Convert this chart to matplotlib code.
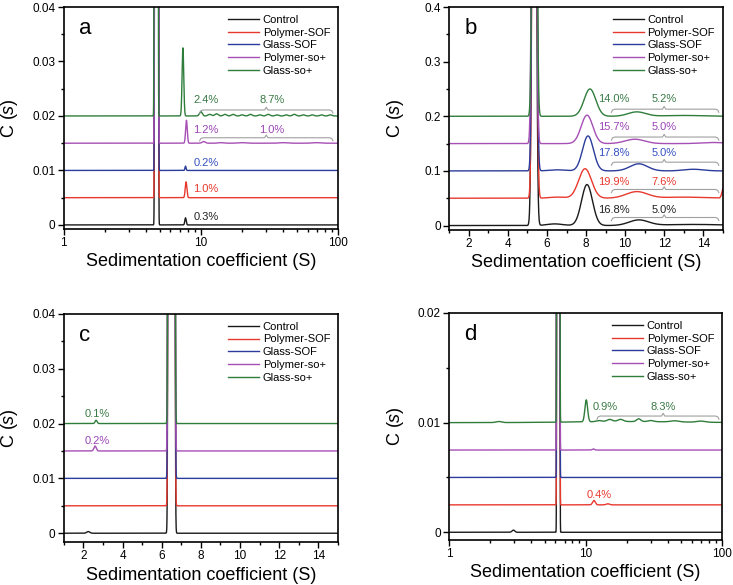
import numpy as np
import matplotlib.pyplot as plt
from matplotlib.ticker import MultipleLocator, FixedLocator, FuncFormatter, NullFormatter

plt.rcParams['font.family'] = ['Liberation Sans', 'DejaVu Sans']
plt.rcParams['mathtext.fontset'] = 'custom'
plt.rcParams['mathtext.it'] = 'Liberation Sans:italic'
plt.rcParams['mathtext.rm'] = 'Liberation Sans'

names = ['Control', 'Polymer-SOF', 'Glass-SOF', 'Polymer-so+', 'Glass-so+']
colors = ['#1a1a1a', '#e8392e', '#2c3c9c', '#a64fb5', '#2f7d3b']
text_colors = ['#222222', '#e8392e', '#3550c0', '#9a45b5', '#3a7a46']

# peaks: (S, height above baseline, width)
# log panels: width in decades; linear panels: width in S

# panel a (log axis)
a_offsets = [0, 0.005, 0.010, 0.015, 0.020]
a_peaks = [
    [(4.75, 100, 0.004), (7.73, 0.0013, 0.005)],
    [(4.75, 100, 0.004), (7.8, 0.0029, 0.006)],
    [(4.75, 100, 0.004), (7.73, 0.0008, 0.004)],
    [(4.75, 100, 0.004), (7.85, 0.0042, 0.006), (10.5, 0.0003, 0.012),
     (14, 0.0001, 0.02), (20, 0.0001, 0.03), (40, 0.0001, 0.03), (70, 0.0001, 0.03)],
    [(4.72, 100, 0.004), (7.4, 0.0125, 0.006), (10.0, 0.0008, 0.01),
     (11.6, 0.0003, 0.012), (13, 0.0004, 0.012), (15, 0.0003, 0.012),
     (17.2, 0.0003, 0.012), (20, 0.0002, 0.012), (23, 0.0003, 0.012),
     (27, 0.0002, 0.012), (31, 0.0003, 0.012), (36, 0.0002, 0.012),
     (42, 0.0002, 0.012), (48, 0.0003, 0.012), (56, 0.0002, 0.012),
     (65, 0.0002, 0.012), (76, 0.0002, 0.012), (88, 0.0002, 0.012)],
]
a_labels = ['0.3%', '1.0%', '0.2%', '1.2%', '2.4%']
a_label_x = [8.8, 8.8, 8.8, 8.8, 8.8]
a_label_y = [0.0015, 0.0066, 0.0114, 0.0174, 0.0229]
a_brackets = [(3, 9.8, 92, 30, 0.0160, '1.0%', 0.0174),
              (4, 9.8, 92, 30, 0.0211, '8.7%', 0.0229)]

# panel b (linear axis)
b_offsets = [0, 0.05, 0.10, 0.15, 0.20]
b_peaks = [
    [(5.34, 2, 0.08), (6.4, 0.003, 0.4), (8.05, 0.075, 0.28), (10.7, 0.010, 0.5), (13.5, 0.002, 1.5)],
    [(5.36, 2, 0.08), (6.5, 0.002, 0.4), (7.95, 0.054, 0.33), (10.6, 0.012, 0.55),
     (13.0, 0.002, 1.0), (15.05, 0.02, 0.08)],
    [(5.36, 2, 0.08), (6.5, 0.002, 0.4), (8.1, 0.064, 0.28), (10.7, 0.013, 0.45), (13.5, 0.003, 0.5)],
    [(5.34, 2, 0.08), (8.05, 0.052, 0.3), (10.5, 0.008, 0.5), (14.5, 0.002, 0.6)],
    [(5.36, 2, 0.08), (8.2, 0.05, 0.3), (10.6, 0.008, 0.45), (13.0, 0.0015, 1.0)],
]
b_labels = ['16.8%', '19.9%', '17.8%', '15.7%', '14.0%']
b_label_x = [8.6, 8.6, 8.6, 8.6, 8.6]
b_label_y = [0.029, 0.079, 0.132, 0.180, 0.231]
b_brackets = [(0, 9.3, 14.8, 12.0, 0.0147, '5.0%', 0.029),
              (1, 9.3, 14.8, 12.0, 0.066, '7.6%', 0.079),
              (2, 9.3, 14.8, 12.0, 0.116, '5.0%', 0.132),
              (3, 9.3, 14.8, 12.0, 0.162, '5.0%', 0.180),
              (4, 9.3, 14.8, 12.0, 0.213, '5.2%', 0.231)]

# panel c (linear axis)
c_offsets = [0, 0.005, 0.010, 0.015, 0.020]
c_peaks = [
    [(2.25, 0.0003, 0.08), (6.5, 100, 0.05)],
    [(6.5, 100, 0.05)],
    [(6.5, 100, 0.05)],
    [(2.6, 0.0009, 0.06), (6.5, 100, 0.05)],
    [(2.65, 0.0006, 0.05), (6.5, 100, 0.05)],
]
c_text = [(3, '0.2%', 2.69, 0.0169), (4, '0.1%', 2.69, 0.0218)]

# panel d (log axis)
d_offsets = [0, 0.0025, 0.005, 0.0075, 0.010]
d_peaks = [
    [(2.95, 0.0002, 0.01), (6.3, 100, 0.0032)],
    [(6.3, 100, 0.0032), (11.5, 0.0004, 0.01), (14.5, 0.0001, 0.012)],
    [(6.3, 100, 0.0032)],
    [(6.3, 100, 0.0032), (11.4, 0.0001, 0.008)],
    [(2.3, 0.0001, 0.02), (6.3, 100, 0.0032), (10.1, 0.002, 0.01),
     (12.5, 0.0001, 0.02), (15, 0.0002, 0.02), (18, 0.0002, 0.02),
     (24.5, 0.00025, 0.015), (30, 0.0001, 0.02), (45, 0.0001, 0.03),
     (70, 0.0001, 0.03), (20, 0.0001, 0.4)],
]
d_text = [(1, '0.4%', 12.6, 0.0034, 'center'), (4, '0.9%', 11.2, 0.0114, 'left')]
d_brackets = [(4, 12.1, 95, 37, 0.0106, '8.3%', 0.0114)]


def draw_curves(ax, x, offsets, peaks, log):
    u = np.log10(x) if log else x
    for i in range(5):
        y = np.full_like(x, offsets[i])
        for c, h, w in peaks[i]:
            c = np.log10(c) if log else c
            y = y + h * np.exp(-0.5 * ((u - c) / w) ** 2)
        ax.plot(x, y, color=colors[i], lw=1.0, label=names[i])


def bracket(ax, x0, x1, xm, y):
    # gray brace drawn in axes fraction
    to_ax = ax.transAxes.inverted()
    p0 = to_ax.transform(ax.transData.transform((x0, y)))
    p1 = to_ax.transform(ax.transData.transform((x1, y)))
    pm = to_ax.transform(ax.transData.transform((xm, y)))
    ya = p0[1]
    xs = [p0[0], p0[0] + 0.004, p0[0] + 0.012, pm[0] - 0.006, pm[0], pm[0] + 0.006,
          p1[0] - 0.012, p1[0] - 0.004, p1[0]]
    ys = [ya - 0.014, ya - 0.004, ya, ya, ya + 0.012, ya, ya, ya - 0.004, ya - 0.014]
    ax.plot(xs, ys, color='#a0a0a0', lw=0.8, transform=ax.transAxes)


def style(ax, letter, log, ymax, ymin, ymajor, yminor):
    for s in ax.spines.values():
        s.set_linewidth(1.2)
    ax.tick_params(direction='out', length=4, width=1.0, labelsize=8.5, pad=2)
    ax.tick_params(which='minor', direction='out', length=2.5, width=1.0)
    ax.set_ylim(ymin, ymax)
    ax.yaxis.set_major_locator(MultipleLocator(ymajor))
    ax.yaxis.set_minor_locator(MultipleLocator(yminor))
    ax.yaxis.set_major_formatter(FuncFormatter(lambda v, p: '0' if abs(v) < 1e-9 else '%g' % v))
    if log:
        ax.set_xscale('log')
        ax.set_xlim(1, 100)
        ax.xaxis.set_major_locator(FixedLocator([1, 10, 100]))
        ax.xaxis.set_major_formatter(FuncFormatter(lambda v, p: '%d' % v))
        ax.xaxis.set_minor_locator(FixedLocator([2, 3, 4, 5, 6, 7, 8, 9, 20, 30, 40, 50, 60, 70, 80, 90]))
        ax.xaxis.set_minor_formatter(NullFormatter())
    else:
        ax.set_xlim(1, 15)
        ax.xaxis.set_major_locator(MultipleLocator(2))
        ax.xaxis.set_minor_locator(MultipleLocator(1))
    ax.set_xlabel('Sedimentation coefficient (S)', fontsize=13, labelpad=3)
    ax.set_ylabel('C ($\\mathit{s}$)', fontsize=13)
    ax.yaxis.set_label_coords(-0.16, 0.5)
    ax.text(0.077, 0.905, letter, transform=ax.transAxes, fontsize=16, ha='center', va='center')
    ax.legend(loc='upper right', frameon=False, fontsize=8, handlelength=2.8,
              handletextpad=0.3, labelspacing=0.25, borderaxespad=0.3)


fig = plt.figure(figsize=(7.33, 5.85), dpi=100)
ax_a = fig.add_axes([0.087, 0.609, 0.374, 0.379])
ax_b = fig.add_axes([0.613, 0.607, 0.373, 0.381])
ax_c = fig.add_axes([0.087, 0.0735, 0.374, 0.39])
ax_d = fig.add_axes([0.613, 0.077, 0.372, 0.388])

x_log = np.logspace(0, 2, 20000)
x_lin = np.linspace(1, 15, 6000)

fs = 8

# a
draw_curves(ax_a, x_log, a_offsets, a_peaks, True)
style(ax_a, 'a', True, 0.04, -0.0007, 0.01, 0.005)
for i in range(5):
    ax_a.text(a_label_x[i], a_label_y[i], a_labels[i], color=text_colors[i], fontsize=fs, va='center')
for i, x0, x1, xm, y, t, ty in a_brackets:
    bracket(ax_a, x0, x1, xm, y)
    ax_a.text(xm * 1.1, ty, t, color=text_colors[i], fontsize=fs, ha='center', va='center')

# b
draw_curves(ax_b, x_lin, b_offsets, b_peaks, False)
style(ax_b, 'b', False, 0.4, -0.008, 0.1, 0.05)
for i in range(5):
    ax_b.text(b_label_x[i], b_label_y[i], b_labels[i], color=text_colors[i], fontsize=fs, va='center')
for i, x0, x1, xm, y, t, ty in b_brackets:
    bracket(ax_b, x0, x1, xm, y)
    ax_b.text(xm, ty, t, color=text_colors[i], fontsize=fs, ha='center', va='center')

# c
draw_curves(ax_c, x_lin, c_offsets, c_peaks, False)
style(ax_c, 'c', False, 0.04, -0.0016, 0.01, 0.005)
for i, t, x, y in c_text:
    ax_c.text(x, y, t, color=text_colors[i], fontsize=fs, ha='center', va='center')

# d
draw_curves(ax_d, x_log, d_offsets, d_peaks, True)
style(ax_d, 'd', True, 0.02, -0.0007, 0.01, 0.005)
for i, t, x, y, ha in d_text:
    ax_d.text(x, y, t, color=text_colors[i], fontsize=fs, ha=ha, va='center')
for i, x0, x1, xm, y, t, ty in d_brackets:
    bracket(ax_d, x0, x1, xm, y)
    ax_d.text(xm, ty, t, color=text_colors[i], fontsize=fs, ha='center', va='center')

fig.savefig('out.png', dpi=100)
